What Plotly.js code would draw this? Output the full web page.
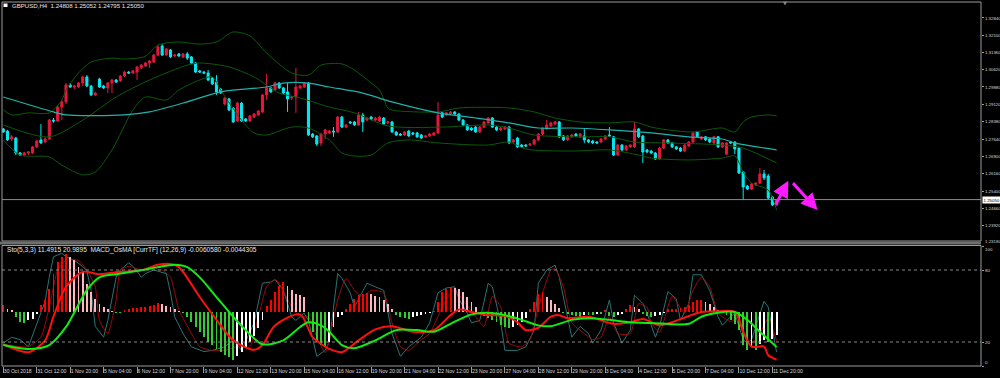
<!DOCTYPE html>
<html><head><meta charset="utf-8">
<script src="https://cdn.plot.ly/plotly-3.0.1.min.js"></script>
<style>html,body{margin:0;padding:0;background:#000;overflow:hidden}#chart{width:1000px;height:378px}</style>
</head><body><div id="chart"></div>
<script>
const symbol = "GBPUSD,H4";
const dateLabels = ["30 Oct 2018","31 Oct 12:00","1 Nov 20:00","5 Nov 04:00","6 Nov 12:00","7 Nov 20:00","9 Nov 04:00","12 Nov 12:00","13 Nov 20:00","15 Nov 04:00","16 Nov 12:00","19 Nov 20:00","21 Nov 04:00","22 Nov 12:00","23 Nov 20:00","27 Nov 04:00","28 Nov 12:00","29 Nov 20:00","3 Dec 04:00","4 Dec 12:00","5 Dec 20:00","7 Dec 04:00","10 Dec 12:00","11 Dec 20:00"];
const barsPerLabel = 8;
const priceTicks = [1.32840,1.32100,1.31360,1.30620,1.29880,1.29120,1.28380,1.27640,1.26900,1.26160,1.25400,1.24660,1.23920];
const priceTickBelow = "1.23180";
const stochTicks = [0,20,80,100];
const stochLevels = [20,80];

const open = [1.2808,1.2799,1.2765,1.2769,1.2705,1.2696,1.2705,1.2705,1.2731,1.2761,
1.2752,1.2765,1.2846,1.2842,1.2902,1.2924,1.2997,1.2988,1.2988,1.3005,
1.3031,1.2992,1.2954,1.3022,1.2992,1.2984,1.3005,1.3018,1.3014,1.3035,
1.3052,1.3048,1.3052,1.3070,1.3078,1.3091,1.3095,1.3125,1.3164,1.3125,
1.3147,1.3121,1.3130,1.3117,1.3130,1.3117,1.3091,1.3057,1.3052,1.3048,
1.3027,1.3009,1.2979,1.2915,1.2937,1.2898,1.2842,1.2919,1.2851,1.2842,
1.2859,1.2868,1.2881,1.2954,1.2984,1.2975,1.3005,1.2984,1.2967,1.2941,
1.2945,1.2984,1.2988,1.3005,1.2786,1.2778,1.2748,1.2786,1.2791,1.2799,
1.2795,1.2859,1.2816,1.2838,1.2838,1.2825,1.2868,1.2846,1.2859,1.2846,
1.2842,1.2855,1.2834,1.2838,1.2795,1.2786,1.2782,1.2799,1.2791,1.2791,
1.2782,1.2774,1.2778,1.2782,1.2791,1.2877,1.2868,1.2872,1.2881,1.2872,
1.2846,1.2825,1.2812,1.2816,1.2795,1.2816,1.2834,1.2855,1.2816,1.2804,
1.2808,1.2816,1.2752,1.2769,1.2739,1.2739,1.2739,1.2743,1.2761,1.2786,
1.2808,1.2821,1.2829,1.2838,1.2778,1.2761,1.2774,1.2786,1.2774,1.2778,
1.2761,1.2756,1.2752,1.2752,1.2765,1.2782,1.2774,1.2696,1.2739,1.2718,
1.2731,1.2731,1.2808,1.2778,1.2718,1.2713,1.2705,1.2679,1.2726,1.2761,
1.2748,1.2731,1.2726,1.2713,1.2735,1.2752,1.2795,1.2765,1.2774,1.2765,
1.2748,1.2774,1.2731,1.2700,1.2752,1.2752,1.2726,1.2623,1.2563,1.2550,
1.2568,1.2576,1.2615,1.2606,1.2516,1.24808];
const high = [1.2812,1.2804,1.2782,1.2774,1.2709,1.2709,1.2713,1.2735,1.2761,1.2829,
1.2774,1.2851,1.2855,1.2911,1.2932,1.3005,1.3005,1.2997,1.3009,1.3035,
1.3039,1.2997,1.2967,1.3027,1.2997,1.3009,1.3022,1.3022,1.3039,1.3057,
1.3057,1.3061,1.3078,1.3087,1.3095,1.3104,1.3130,1.3168,1.3172,1.3155,
1.3151,1.3130,1.3134,1.3134,1.3138,1.3121,1.3095,1.3061,1.3057,1.3061,
1.3031,1.3039,1.2984,1.2945,1.2941,1.2902,1.2924,1.2924,1.2855,1.2868,
1.2877,1.2889,1.2958,1.3044,1.2988,1.3009,1.3009,1.2988,1.3005,1.2949,
1.3070,1.2997,1.3009,1.3009,1.2791,1.2782,1.2791,1.2808,1.2804,1.2816,
1.2864,1.2864,1.2829,1.2842,1.2842,1.2881,1.2877,1.2859,1.2864,1.2859,
1.2864,1.2859,1.2842,1.2842,1.2799,1.2791,1.2799,1.2804,1.2795,1.2795,
1.2786,1.2782,1.2791,1.2795,1.2924,1.2881,1.2881,1.2885,1.2885,1.2877,
1.2851,1.2829,1.2816,1.2821,1.2821,1.2842,1.2859,1.2859,1.2821,1.2816,
1.2821,1.2821,1.2765,1.2774,1.2743,1.2743,1.2748,1.2765,1.2791,1.2816,
1.2846,1.2838,1.2842,1.2842,1.2782,1.2782,1.2786,1.2791,1.2791,1.2812,
1.2765,1.2761,1.2756,1.2769,1.2782,1.2816,1.2778,1.2743,1.2743,1.2739,
1.2743,1.2838,1.2812,1.2782,1.2722,1.2718,1.2709,1.2731,1.2765,1.2765,
1.2752,1.2735,1.2731,1.2743,1.2756,1.2795,1.2799,1.2778,1.2778,1.2769,
1.2778,1.2778,1.2752,1.2752,1.2756,1.2756,1.2731,1.2628,1.2568,1.2576,
1.2580,1.2640,1.2632,1.2615,1.2520,1.25052];
const low = [1.2791,1.2756,1.2756,1.2696,1.2692,1.2692,1.2696,1.2700,1.2726,1.2743,
1.2748,1.2761,1.2834,1.2838,1.2846,1.2915,1.2984,1.2979,1.2984,1.2992,
1.2988,1.2949,1.2949,1.2984,1.2979,1.2962,1.2962,1.3005,1.3009,1.3031,
1.3044,1.3044,1.3018,1.3065,1.3074,1.3070,1.3091,1.3121,1.3121,1.3121,
1.3112,1.3117,1.3117,1.3112,1.3104,1.3087,1.3048,1.3048,1.3044,1.3014,
1.2997,1.2954,1.2958,1.2911,1.2885,1.2834,1.2838,1.2838,1.2838,1.2838,
1.2855,1.2864,1.2877,1.2932,1.2962,1.2971,1.2979,1.2958,1.2881,1.2932,
1.2877,1.2979,1.2984,1.2778,1.2769,1.2735,1.2735,1.2765,1.2786,1.2774,
1.2791,1.2812,1.2812,1.2829,1.2821,1.2821,1.2795,1.2842,1.2846,1.2842,
1.2838,1.2825,1.2829,1.2791,1.2778,1.2778,1.2778,1.2774,1.2782,1.2769,
1.2765,1.2769,1.2774,1.2778,1.2786,1.2855,1.2864,1.2868,1.2868,1.2842,
1.2821,1.2799,1.2799,1.2791,1.2791,1.2812,1.2829,1.2812,1.2799,1.2799,
1.2804,1.2743,1.2748,1.2726,1.2726,1.2731,1.2735,1.2739,1.2756,1.2782,
1.2804,1.2816,1.2825,1.2769,1.2756,1.2756,1.2769,1.2774,1.2769,1.2748,
1.2748,1.2743,1.2743,1.2748,1.2761,1.2774,1.2692,1.2692,1.2713,1.2713,
1.2726,1.2726,1.2769,1.2662,1.2705,1.2700,1.2675,1.2675,1.2722,1.2743,
1.2726,1.2718,1.2709,1.2709,1.2731,1.2748,1.2769,1.2761,1.2756,1.2748,
1.2743,1.2726,1.2726,1.2696,1.2743,1.2700,1.2615,1.2503,1.2546,1.2546,
1.2563,1.2572,1.2589,1.2507,1.2477,1.24795];
const close = [1.2795,1.2761,1.2774,1.2705,1.2696,1.2705,1.2709,1.2731,1.2756,1.2748,
1.2765,1.2846,1.2842,1.2902,1.2924,1.2997,1.2988,1.2992,1.3005,1.3031,
1.2992,1.2954,1.2962,1.2988,1.2984,1.3005,1.3018,1.3009,1.3035,1.3052,
1.3048,1.3057,1.3074,1.3082,1.3091,1.3100,1.3125,1.3160,1.3125,1.3151,
1.3117,1.3125,1.3121,1.3130,1.3112,1.3091,1.3052,1.3052,1.3048,1.3018,
1.3001,1.2967,1.2962,1.2941,1.2889,1.2838,1.2919,1.2842,1.2842,1.2864,
1.2872,1.2885,1.2954,1.2984,1.2967,1.3005,1.2984,1.2962,1.2937,1.2945,
1.2988,1.2992,1.3005,1.2782,1.2774,1.2743,1.2786,1.2804,1.2799,1.2795,
1.2859,1.2816,1.2825,1.2834,1.2825,1.2868,1.2838,1.2855,1.2851,1.2855,
1.2859,1.2829,1.2838,1.2795,1.2782,1.2782,1.2795,1.2778,1.2786,1.2774,
1.2769,1.2778,1.2786,1.2791,1.2868,1.2859,1.2877,1.2881,1.2872,1.2846,
1.2825,1.2804,1.2804,1.2795,1.2816,1.2838,1.2855,1.2816,1.2804,1.2812,
1.2816,1.2748,1.2761,1.2731,1.2731,1.2735,1.2743,1.2761,1.2786,1.2812,
1.2825,1.2834,1.2838,1.2774,1.2761,1.2778,1.2782,1.2778,1.2786,1.2761,
1.2752,1.2748,1.2748,1.2765,1.2778,1.2778,1.2696,1.2739,1.2718,1.2735,
1.2739,1.2808,1.2774,1.2709,1.2709,1.2705,1.2679,1.2726,1.2761,1.2748,
1.2731,1.2722,1.2713,1.2739,1.2752,1.2791,1.2774,1.2774,1.2761,1.2752,
1.2774,1.2731,1.2748,1.2748,1.2748,1.2722,1.2619,1.2559,1.2550,1.2572,
1.2576,1.2615,1.2598,1.2512,1.2482,1.25050];

// Moving average (teal) and Bollinger bands, sampled at bar indices
const maBars = [0,12,15,29,35,44,52,63,67,73,78,86,93,104,113,121,128,136,145,155,164,172,175,185];
const maValues = [1.2945,1.2881,1.2868,1.2868,1.2881,1.2924,1.2967,1.2988,1.3005,1.3005,1.2988,1.2962,1.2924,1.2877,1.2855,1.2834,1.2812,1.2812,1.2804,1.2791,1.2774,1.2765,1.2748,1.2718];
const bbUpperBars = [0,2,6,11,14,15,18,21,26,29,34,37,42,47,51,55,59,63,69,73,76,81,84,88,90,92,93,104,109,121,127,132,138,145,151,155,159,165,172,175,177,179,183,185];
const bbUpper = [1.2889,1.2868,1.2877,1.2877,1.2932,1.2975,1.3048,1.3095,1.3112,1.3108,1.3120,1.3168,1.3181,1.3172,1.3181,1.3224,1.3207,1.3134,1.3048,1.3039,1.3082,1.3087,1.3061,1.3005,1.2975,1.2898,1.2889,1.2881,1.2898,1.2898,1.2881,1.2855,1.2838,1.2834,1.2838,1.2816,1.2804,1.2795,1.2812,1.2795,1.2838,1.2859,1.2868,1.2864];
const bbMiddleBars = [0,11,19,27,35,44,47,54,60,66,71,78,84,92,105,116,121,127,138,145,151,159,172,177,185];
const bbMiddle = [1.2825,1.2774,1.2846,1.2945,1.3018,1.3082,1.3091,1.3074,1.3031,1.2962,1.2941,1.2902,1.2877,1.2821,1.2816,1.2825,1.2812,1.2782,1.2774,1.2774,1.2752,1.2748,1.2739,1.2726,1.2662];
const bbLowerBars = [0,4,11,14,19,22,26,31,34,39,42,47,50,52,57,60,63,69,73,78,81,84,88,92,97,104,116,121,125,136,145,152,155,164,172,175,177,179,183,185];
const bbLower = [1.2761,1.2696,1.2688,1.2653,1.2611,1.2623,1.2718,1.2889,1.2945,1.2932,1.2975,1.3018,1.3031,1.2975,1.2846,1.2791,1.2782,1.2816,1.2812,1.2761,1.2705,1.2692,1.2696,1.2748,1.2761,1.2748,1.2739,1.2752,1.2722,1.2713,1.2718,1.2696,1.2683,1.2675,1.2683,1.2692,1.2623,1.2576,1.2546,1.2460];

// MACD OsMA histogram, one per bar
const osma = [0.0009,0.0004,0.0002,-0.0006,-0.0013,-0.0014,-0.0010,-0.0009,-0.0003,0.0009,
0.0015,0.0029,0.0048,0.0064,0.0070,0.0074,0.0070,0.0066,0.0057,0.0051,
0.0036,0.0025,0.0017,0.0010,0.0006,0.0004,0.0001,-0.0001,-0.0001,0.0003,
0.0004,0.0005,0.0005,0.0006,0.0006,0.0008,0.0009,0.0011,0.0010,0.0008,
0.0006,0.0004,0.0001,-0.0001,-0.0006,-0.0013,-0.0019,-0.0025,-0.0032,-0.0038,
-0.0042,-0.0047,-0.0051,-0.0055,-0.0057,-0.0061,-0.0056,-0.0051,-0.0044,-0.0038,
-0.0030,-0.0020,-0.0010,0.0008,0.0015,0.0025,0.0033,0.0038,0.0033,0.0028,
0.0023,0.0022,0.0019,-0.0013,-0.0025,-0.0038,-0.0042,-0.0043,-0.0038,-0.0019,
-0.0006,-0.0004,0.0004,0.0010,0.0017,0.0022,0.0023,0.0024,0.0023,0.0020,
0.0019,0.0015,0.0010,0.0004,-0.0004,-0.0006,-0.0008,-0.0009,-0.0006,-0.0005,
-0.0004,-0.0003,-0.0001,0.0001,0.0013,0.0025,0.0029,0.0032,0.0030,0.0029,
0.0025,0.0019,0.0013,0.0006,-0.0003,-0.0005,-0.0008,-0.0010,-0.0013,-0.0017,
-0.0019,-0.0020,-0.0019,-0.0017,-0.0013,-0.0008,0.0004,0.0013,0.0023,0.0025,
0.0019,0.0015,0.0010,0.0005,-0.0001,-0.0003,-0.0004,-0.0005,-0.0006,-0.0004,
-0.0004,-0.0004,-0.0003,-0.0003,0.0003,-0.0005,-0.0006,-0.0004,-0.0003,0.0004,
0.0009,0.0006,0.0004,-0.0003,-0.0005,-0.0006,-0.0005,-0.0004,-0.0001,0.0004,
0.0004,0.0004,0.0005,0.0006,0.0009,0.0013,0.0015,0.0015,0.0013,0.0010,
0.0006,0.0003,-0.0001,-0.0004,-0.0010,-0.0015,-0.0023,-0.0042,-0.0048,-0.0044,
-0.0048,-0.0041,-0.0036,-0.0038,-0.0034,-0.0029];
const macdBars = [0,6,10,12,15,19,23,28,33,37,40,42,47,51,55,60,62,65,71,74,77,78,81,85,89,93,98,103,107,109,112,116,120,123,125,128,131,133,135,140,146,150,153,155,157,160,164,167,171,175,177,179,182,183,185];
const macdMain = [-0.0041,-0.0051,-0.0036,-0.0006,0.0032,0.0051,0.0048,0.0051,0.0053,0.0060,0.0061,0.0057,0.0019,-0.0010,-0.0036,-0.0048,-0.0042,-0.0017,-0.0003,-0.0032,-0.0044,-0.0047,-0.0051,-0.0036,-0.0022,-0.0018,-0.0025,-0.0023,-0.0004,0.0003,0.0000,-0.0004,-0.0005,-0.0013,-0.0023,-0.0020,-0.0006,-0.0004,-0.0008,-0.0006,-0.0015,-0.0013,-0.0009,-0.0013,-0.0017,-0.0013,-0.0005,0.0000,0.0001,0.0000,-0.0025,-0.0044,-0.0044,-0.0055,-0.0060580];
const signalBars = [0,6,11,15,20,23,27,33,37,41,44,47,51,55,58,62,67,71,73,76,78,81,84,89,94,99,103,107,112,116,120,124,128,131,136,140,145,150,155,164,167,171,175,178,181,185];
const macdSignal = [-0.0042,-0.0047,-0.0042,-0.0019,0.0028,0.0044,0.0048,0.0053,0.0057,0.0060,0.0057,0.0044,0.0019,-0.0006,-0.0023,-0.0041,-0.0036,-0.0019,-0.0013,-0.0017,-0.0025,-0.0042,-0.0046,-0.0036,-0.0023,-0.0023,-0.0025,-0.0015,-0.0003,-0.0001,-0.0004,-0.0010,-0.0017,-0.0018,-0.0010,-0.0008,-0.0010,-0.0013,-0.0014,-0.0015,-0.0006,-0.0001,0.0000,-0.0010,-0.0025,-0.0044305];

// Stochastic (5,3,3)
const stochKBars = [0,2,4,6,8,10,11,12,14,15,17,19,20,21,22,24,25,27,28,30,31,32,33,34,36,37,39,40,41,43,45,48,50,53,55,57,60,62,64,65,67,69,70,72,73,75,77,78,80,81,83,84,87,89,91,93,95,97,100,102,104,106,108,109,111,112,114,116,117,119,120,123,125,127,128,130,132,133,135,136,138,140,141,143,145,146,148,150,151,153,154,156,157,159,161,162,164,165,167,169,171,172,174,175,177,178,179,181,182,183,185];
const stochK = [19,24,22,16,35,54,74,91,94,91,88,83,79,63,33,24,38,74,80,86,83,79,74,77,80,79,77,61,41,27,16,12,13,16,22,13,36,69,70,72,63,41,38,44,38,8,13,20,77,73,61,49,69,66,63,27,8,16,24,36,61,65,66,56,44,36,38,69,66,36,13,13,16,30,69,80,84,74,41,24,33,27,19,30,55,36,19,30,59,52,44,24,33,62,56,38,52,76,76,63,41,34,41,44,22,19,22,44,54,49,11.4915];
const stochDBars = [0,4,6,9,11,13,15,18,20,22,23,25,27,28,30,33,36,38,40,42,45,47,50,53,56,59,61,63,65,66,69,71,73,75,77,78,80,82,84,86,88,91,93,95,97,100,102,105,107,108,110,113,115,117,119,121,124,126,128,131,132,134,136,139,141,143,145,147,150,152,154,155,157,160,163,165,167,169,171,174,176,177,179,181,183,185];
const stochD = [18,16,16,24,49,80,88,88,80,66,38,27,55,80,83,80,81,80,74,47,27,16,13,13,16,16,41,66,72,69,49,41,41,24,11,22,55,73,63,58,63,61,36,16,13,22,27,49,61,63,55,41,33,58,49,19,16,22,49,80,81,66,36,27,22,24,41,27,27,52,49,36,28,58,44,63,74,66,44,37,41,27,19,27,40,20.9895];

// Hand-drawn arrows (bar index, price)
const arrows = [
  {fromBar:184.6, fromPrice:1.2477, toBar:187.8, toPrice:1.2586},
  {fromBar:188.6, fromPrice:1.2582, toBar:194.8, toPrice:1.2460}
];

const n = close.length;
const bars = Array.from({length:n}, (_, i) => i);
const histColors = osma.map((v, i) => {
  const prev = i > 0 ? osma[i-1] : v;
  if (v >= 0) return v >= prev ? '#ff0000' : '#ffb6c1';
  return v <= prev ? '#32cd32' : '#ffffff';
});

const FONT = 'Liberation Sans, Arial, sans-serif';
const TXT = '#d8d8d8';
const AX = 4.4;
const px = x => (x - 2) / 979;
const py = y => (366 - y) / 364;

const bbLine = {color:'#0b5a0b', width:1, shape:'spline', smoothing:0.8};
const traces = [
  {type:'scatter', mode:'lines', x:bbUpperBars, y:bbUpper, line:bbLine, hoverinfo:'skip'},
  {type:'scatter', mode:'lines', x:bbMiddleBars, y:bbMiddle, line:bbLine, hoverinfo:'skip'},
  {type:'scatter', mode:'lines', x:bbLowerBars, y:bbLower, line:bbLine, hoverinfo:'skip'},
  {type:'scatter', mode:'lines', x:maBars, y:maValues, line:{color:'#20b2aa', width:1.2, shape:'spline', smoothing:0.8}, hoverinfo:'skip'},
  {type:'candlestick', x:bars, open, high, low, close, whiskerwidth:0,
   increasing:{line:{color:'#e8173c', width:1}, fillcolor:'#e8173c'},
   decreasing:{line:{color:'#00ecf4', width:1}, fillcolor:'#00ecf4'}, hoverinfo:'skip'},
  {type:'scatter', mode:'lines', x:stochKBars, y:stochK, xaxis:'x', yaxis:'y2', line:{color:'#2b7474', width:1}, hoverinfo:'skip'},
  {type:'scatter', mode:'lines', x:stochDBars, y:stochD, xaxis:'x', yaxis:'y2', line:{color:'#9a0a0a', width:1, shape:'spline', smoothing:0.5}, hoverinfo:'skip'},
  {type:'bar', x:bars, y:osma, xaxis:'x', yaxis:'y3', width:0.45, marker:{color:histColors, line:{width:0}}, hoverinfo:'skip'},
  {type:'scatter', mode:'lines', x:macdBars, y:macdMain, xaxis:'x', yaxis:'y3', line:{color:'#ff1010', width:2, shape:'spline', smoothing:0.8}, hoverinfo:'skip'},
  {type:'scatter', mode:'lines', x:signalBars, y:macdSignal, xaxis:'x', yaxis:'y3', line:{color:'#10ee10', width:2, shape:'spline', smoothing:0.8}, hoverinfo:'skip'}
];

const last = n - 1;
const f5 = v => v.toFixed(5);
const frame = '#9c9c9c';
// stochastic scale labels sit just below/above their level, as in the terminal
const stochLabelPx = {100:249.5, 80:270, 20:342, 0:362.5};
const shapes = [
  {type:'line', xref:'paper', yref:'y', x0:0, x1:1, y0:close[last], y1:close[last], line:{color:'#8a8a8a', width:1}},
  ...stochLevels.map(l => ({type:'line', xref:'paper', yref:'y2', x0:0, x1:1, y0:l, y1:l, line:{color:'#8a8a8a', width:1, dash:'dot'}})),
  {type:'rect', xref:'paper', yref:'paper', x0:0, x1:1, y0:py(241), y1:1, line:{color:frame, width:1}},
  {type:'rect', xref:'paper', yref:'paper', x0:0, x1:1, y0:0, y1:py(245.5), line:{color:frame, width:1}},
  {type:'rect', xref:'paper', yref:'paper', x0:px(0), x1:px(981), y0:py(244.5), y1:py(241.5), fillcolor:'#6e6e6e', line:{width:0}},
  {type:'rect', xref:'paper', yref:'paper', x0:px(3.5), x1:px(7.5), y0:py(7), y1:py(3.5), fillcolor:'#ffffff', line:{width:0}}
];
const annotations = [
  {xref:'paper', yref:'paper', x:px(10), y:py(5.5), xanchor:'left', yanchor:'middle', showarrow:false,
   text:`${symbol}  ${f5(open[last])} ${f5(high[last])} ${f5(low[last])} ${f5(close[last])}`, font:{family:FONT, size:6.1, color:'#e8e8e8'}},
  {xref:'paper', yref:'paper', x:px(5), y:py(250), xanchor:'left', yanchor:'middle', showarrow:false,
   text:`Sto(5,3,3) ${stochK[stochK.length-1].toFixed(4)} ${stochD[stochD.length-1].toFixed(4)}  MACD_OsMA [CurrTF] (12,26,9) ${macdMain[macdMain.length-1].toFixed(7)} ${macdSignal[macdSignal.length-1].toFixed(7)}`,
   font:{family:FONT, size:6.6, color:'#e8e8e8'}},
  {xref:'paper', yref:'y', x:1, y:close[last], xanchor:'left', yanchor:'middle', xshift:1, showarrow:false,
   text:f5(close[last]), bgcolor:'#ffffff', borderpad:0.5, font:{family:FONT, size:AX, color:'#000000'}},
  {xref:'paper', yref:'paper', x:1, y:py(241.8), xanchor:'left', yanchor:'middle', xshift:2, showarrow:false,
   text:priceTickBelow, font:{family:FONT, size:AX, color:TXT}},
  ...stochTicks.map(t => ({xref:'paper', yref:'paper', x:1, y:py(stochLabelPx[t]), xanchor:'left', yanchor:'middle', xshift:2, showarrow:false,
   text:String(t), font:{family:FONT, size:AX, color:TXT}})),
  {xref:'paper', yref:'paper', x:px(785), y:py(3.5), xanchor:'center', yanchor:'middle', showarrow:false,
   text:'▼', font:{family:'DejaVu Sans', size:5, color:'#8a8a8a'}},
  ...arrows.map(a => ({xref:'x', yref:'y', axref:'x', ayref:'y', x:a.toBar, y:a.toPrice, ax:a.fromBar, ay:a.fromPrice,
    text:'', showarrow:true, arrowhead:2, arrowsize:1.1, arrowwidth:3, arrowcolor:'#ff1aff', standoff:0, startstandoff:0}))
];

const layout = {
  width:1000, height:378, paper_bgcolor:'#000000', plot_bgcolor:'#000000',
  margin:{l:2, r:19, t:2, b:12}, showlegend:false, bargap:0, boxgap:0.3, dragmode:false,
  font:{family:FONT, size:5.2, color:TXT},
  xaxis:{domain:[0,1], range:[-0.31, 233.9], anchor:'y2', rangeslider:{visible:false},
    tickmode:'array', tickvals:dateLabels.map((_, i) => i*barsPerLabel), ticktext:dateLabels,
    tickangle:0, automargin:false,
    ticks:'outside', ticklen:6, tickcolor:frame, tickwidth:1, ticklabelposition:'outside right',
    tickfont:{family:FONT, size:5.1, color:TXT}, showgrid:false, zeroline:false, showline:false},
  yaxis:{domain:[py(241), 1], range:[1.23273, 1.33526], side:'right', anchor:'x', automargin:false,
    tickmode:'array', tickvals:priceTicks, ticktext:priceTicks.map(f5),
    ticks:'outside', ticklen:2, tickcolor:frame, tickfont:{family:FONT, size:AX, color:TXT},
    showgrid:false, zeroline:false, showline:false},
  yaxis2:{domain:[0, py(246)], range:[0,100], side:'right', anchor:'x', automargin:false,
    tickmode:'array', tickvals:stochTicks, showticklabels:false,
    ticks:'outside', ticklen:2, tickcolor:frame,
    showgrid:false, zeroline:false, showline:false},
  yaxis3:{overlaying:'y2', range:[-0.006858, 0.008382], visible:false, showgrid:false, zeroline:false},
  shapes, annotations
};
Plotly.newPlot('chart', traces, layout, {staticPlot:true, displayModeBar:false});
</script></body></html>
